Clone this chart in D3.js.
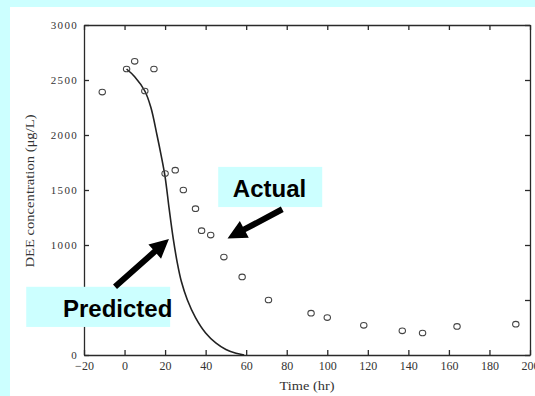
<!DOCTYPE html>
<html>
<head>
<meta charset="utf-8">
<script src="https://cdn.jsdelivr.net/npm/d3@7"></script>
<style>
  body { margin: 0; background: #ccffff; }
  svg { display: block; }
</style>
</head>
<body>
<div id="chart"></div>
<script>
// measured concentrations (open circles)
var actualTime = [-11, 1, 5, 10, 14.5, 20, 25, 29, 35, 38, 42.5, 49, 58, 71, 92, 100, 118, 137, 147, 164, 193];
var actualConc = [2390, 2600, 2670, 2400, 2600, 1650, 1680, 1500, 1330, 1130, 1090, 890, 710, 500, 380, 340, 270, 220, 200, 260, 280];

// model curve
var predTime = [1, 5, 10, 13, 16, 18, 20, 22, 24, 26, 28, 31, 35, 40, 45, 50, 55, 59];
var predConc = [2600, 2530, 2400, 2250, 2000, 1820, 1620, 1330, 1060, 840, 670, 500, 340, 200, 110, 50, 15, 0];

var xTicks = [-20, 0, 20, 40, 60, 80, 100, 120, 140, 160, 180, 200];
var yTicks = [0, 500, 1000, 1500, 2000, 2500, 3000];

var W = 535, H = 396;
var margin = {top: 25, right: 5, bottom: 41, left: 84};

var svg = d3.select("#chart").append("svg")
    .attr("width", W)
    .attr("height", H);

svg.append("rect").attr("width", W).attr("height", H).attr("fill", "#ccffff");
svg.append("rect").attr("x", 10).attr("y", 7).attr("width", W - 10).attr("height", H - 7).attr("fill", "#fff");

var x = d3.scaleLinear().domain([-20, 200]).range([margin.left, W - margin.right]);
var y = d3.scaleLinear().domain([0, 3000]).range([H - margin.bottom, margin.top]);

var ink = "#2a2a2a";

function styleAxis(g) {
    g.selectAll("path, line").attr("stroke", ink).attr("stroke-width", 1.3);
    g.selectAll("text").attr("fill", "#333")
        .style("font-family", "'Liberation Serif', 'DejaVu Serif', serif");
}

svg.append("g")
    .attr("transform", "translate(0," + y(0) + ")")
    .call(d3.axisBottom(x).tickValues(xTicks).tickSizeInner(-5).tickSizeOuter(0).tickPadding(6))
    .call(styleAxis)
    .call(function (g) { g.selectAll("text").style("font-size", "12px"); });

svg.append("g")
    .attr("transform", "translate(0," + y(3000) + ")")
    .call(d3.axisTop(x).tickValues(xTicks).tickSizeInner(-5).tickSizeOuter(0).tickFormat(""))
    .call(styleAxis);

svg.append("g")
    .attr("transform", "translate(" + x(-20) + ",0)")
    .call(d3.axisLeft(y).tickValues(yTicks).tickSizeInner(-5).tickSizeOuter(0).tickPadding(6).tickFormat(d3.format("d")))
    .call(styleAxis)
    .call(function (g) { g.selectAll("text").style("font-size", "11px").attr("letter-spacing", 1.3); });

svg.append("g")
    .attr("transform", "translate(" + x(200) + ",0)")
    .call(d3.axisRight(y).tickValues(yTicks).tickSizeInner(-5).tickSizeOuter(0).tickFormat(""))
    .call(styleAxis);

// axis titles
svg.append("text")
    .attr("transform", "translate(34,191) rotate(-90)")
    .attr("text-anchor", "middle")
    .attr("textLength", 153)
    .attr("lengthAdjust", "spacingAndGlyphs")
    .style("font-family", "'Liberation Serif', serif")
    .style("font-size", "12px")
    .attr("fill", "#333")
    .text("DEE concentration (\u03bcg/L)");

svg.append("text")
    .attr("x", 307)
    .attr("y", 390)
    .attr("text-anchor", "middle")
    .attr("textLength", 55)
    .attr("lengthAdjust", "spacingAndGlyphs")
    .style("font-family", "'Liberation Serif', serif")
    .style("font-size", "12.5px")
    .attr("fill", "#333")
    .text("Time (hr)");

// predicted curve
var pred = predTime.map(function (t, i) { return [t, predConc[i]]; });
var line = d3.line()
    .x(function (d) { return x(d[0]); })
    .y(function (d) { return y(d[1]); })
    .curve(d3.curveCatmullRom.alpha(0.5));

svg.append("path")
    .datum(pred)
    .attr("d", line)
    .attr("fill", "none")
    .attr("stroke", "#222")
    .attr("stroke-width", 1.6);

// actual points
var actual = actualTime.map(function (t, i) { return [t, actualConc[i]]; });
svg.selectAll(".pt")
    .data(actual)
    .enter().append("ellipse")
    .attr("class", "pt")
    .attr("cx", function (d) { return x(d[0]); })
    .attr("cy", function (d) { return y(d[1]); })
    .attr("rx", 3.2)
    .attr("ry", 2.8)
    .attr("fill", "none")
    .attr("stroke", "#444")
    .attr("stroke-width", 1.1);

// annotations: labelled boxes with arrows (positions in data units)
var notes = [
    {label: "Actual", box: [46.2, 1710, 97.5, 1345], text: [71.5, 1435], tail: [77.8, 1325], tip: [50.8, 1060]},
    {label: "Predicted", box: [-48.5, 620, 22.5, 255], text: [-3.4, 345], tail: [-4.7, 620], tip: [21.9, 1055]}
];

notes.forEach(function (n) {
    svg.append("rect")
        .attr("x", x(n.box[0]))
        .attr("y", y(n.box[1]))
        .attr("width", x(n.box[2]) - x(n.box[0]))
        .attr("height", y(n.box[3]) - y(n.box[1]))
        .attr("fill", "#ccffff");

    svg.append("text")
        .attr("x", x(n.text[0]))
        .attr("y", y(n.text[1]))
        .attr("text-anchor", "middle")
        .style("font-family", "'Liberation Sans', Arial, sans-serif")
        .style("font-weight", "bold")
        .style("font-size", "24px")
        .attr("fill", "#000")
        .text(n.label);

    var x0 = x(n.tail[0]), y0 = y(n.tail[1]), x1 = x(n.tip[0]), y1 = y(n.tip[1]);
    var dx = x1 - x0, dy = y1 - y0, len = Math.sqrt(dx * dx + dy * dy);
    var ux = dx / len, uy = dy / len, px = -uy, py = ux;
    var headL = 19, headW = 9.5, shaftW = 3;
    var bx = x1 - ux * headL, by = y1 - uy * headL;
    var pts = [
        [x0 + px * shaftW, y0 + py * shaftW],
        [bx + px * shaftW, by + py * shaftW],
        [bx + px * headW, by + py * headW],
        [x1, y1],
        [bx - px * headW, by - py * headW],
        [bx - px * shaftW, by - py * shaftW],
        [x0 - px * shaftW, y0 - py * shaftW]
    ];
    svg.append("polygon")
        .attr("points", pts.map(function (p) { return p.join(","); }).join(" "))
        .attr("fill", "#000");
});
</script>
</body>
</html>
